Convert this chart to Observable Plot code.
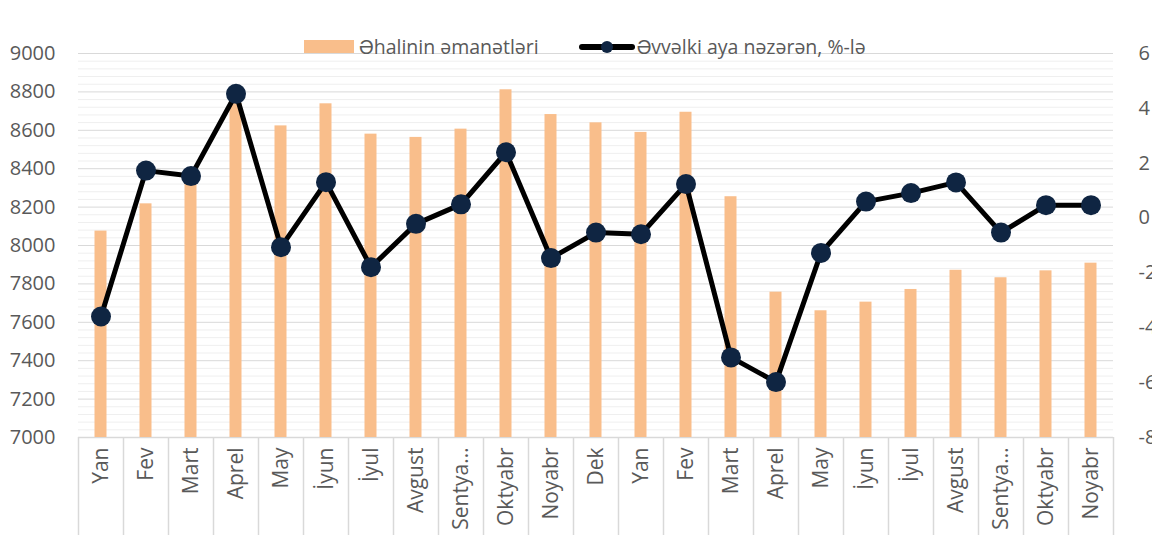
<!DOCTYPE html>
<html>
<head>
<meta charset="utf-8">
<script src="https://cdn.jsdelivr.net/npm/d3@7"></script>
<script src="https://cdn.jsdelivr.net/npm/@observablehq/plot@0.6"></script>
<style>
  html, body { margin: 0; padding: 0; background: #fff; overflow: hidden; }
  #wrap { position: relative; width: 1152px; height: 535px; font-family: "Open Sans", sans-serif; }
  #legend { position: absolute; top: 33px; left: 304px; display: flex; align-items: center; font-size: 19.5px; color: #595959; white-space: nowrap; }
  .sw-bar { display: inline-block; width: 50px; height: 13px; background: #f9be8b; margin-right: 5px; }
  .item { display: flex; align-items: center; }
  .item + .item { margin-left: 40px; }
</style>
</head>
<body>
<div id="wrap">
  <div id="legend">
    <div class="item"><span class="sw-bar"></span><span>Əhalinin əmanətləri</span></div>
    <div class="item">
      <svg width="56" height="20" style="margin-right:2px"><line x1="3" y1="10" x2="53" y2="10" stroke="#000" stroke-width="6" stroke-linecap="round"/><circle cx="28" cy="10" r="6" fill="#0f2542"/></svg>
      <span>Əvvəlki aya nəzərən, %-lə</span>
    </div>
  </div>
</div>
<script>
const labels = ["Yan","Fev","Mart","Aprel","May","İyun","İyul","Avgust","Sentya…","Oktyabr","Noyabr","Dek","Yan","Fev","Mart","Aprel","May","İyun","İyul","Avgust","Sentya…","Oktyabr","Noyabr"];
const deposits = [8075,8217,8345,8740,8623,8738,8580,8563,8606,8811,8682,8639,8589,8694,8254,7757,7660,7705,7771,7871,7832,7868,7908];
const change = [-3.59,1.73,1.53,4.53,-1.06,1.31,-1.79,-0.21,0.50,2.40,-1.46,-0.53,-0.59,1.24,-5.08,-5.98,-1.27,0.60,0.91,1.30,-0.53,0.47,0.47];
const leftTicks = [7000,7200,7400,7600,7800,8000,8200,8400,8600,8800,9000];
const rightTicks = [-8,-6,-4,-2,0,2,4,6];

const L0 = 7000, L1 = 9000, R0 = -8, R1 = 6;
const toLeft = v => L0 + (v - R0) / (R1 - R0) * (L1 - L0);
const fromLeft = y => Math.round(R0 + (y - L0) / (L1 - L0) * (R1 - R0));

const n = labels.length;
const data = labels.map((label, i) => ({i, label, dep: deposits[i], chg: change[i]}));
const W = 1152, H = 535, mL = 78, mR = 39, mT = 53, mB = 98;
const bw = (W - mL - mR) / n;
const minor = d3.range(L0, L1 + 1, 40).filter(v => v % 200 !== 0);

const chart = Plot.plot({
  width: W, height: H,
  marginLeft: mL, marginRight: mR, marginTop: mT, marginBottom: mB,
  style: {fontFamily: "Open Sans, sans-serif", fontSize: "20px", color: "#595959", background: "transparent", overflow: "visible"},
  x: {type: "band", domain: d3.range(n), padding: 0},
  y: {domain: [L0, L1]},
  marks: [
    Plot.ruleY(minor, {stroke: "#efefef", strokeWidth: 1}),
    Plot.ruleY(leftTicks, {stroke: "#d9d9d9", strokeWidth: 1}),
    Plot.axisY(leftTicks, {anchor: "left", tickSize: 0, tickPadding: 23, label: null, tickFormat: d => String(d), fontSize: 20}),
    Plot.axisY(rightTicks.map(toLeft), {anchor: "right", tickSize: 0, tickPadding: 25, label: null, tickFormat: fromLeft, fontSize: 20}),
    Plot.axisX({tickRotate: -90, tickSize: 0, tickPadding: 10, label: null, tickFormat: i => labels[i], fontSize: 21}),
    Plot.ruleX(data, {x: "i", y1: L0, y2: 6470, dx: -bw / 2, stroke: "#d9d9d9", strokeWidth: 1.5}),
    Plot.ruleX([n - 1], {x: d => d, y1: L0, y2: 6470, dx: bw / 2, stroke: "#d9d9d9", strokeWidth: 1.5}),
    Plot.ruleY([L0], {stroke: "#d9d9d9", strokeWidth: 1.5}),
    Plot.barY(data, {x: "i", y1: L0, y2: "dep", fill: "#f9be8b", insetLeft: 16.5, insetRight: 16.5}),
    Plot.line(data, {x: "i", y: d => toLeft(d.chg), stroke: "#000", strokeWidth: 5, strokeLinejoin: "round"}),
    Plot.dot(data, {x: "i", y: d => toLeft(d.chg), r: 10, fill: "#0f2542", stroke: "none"})
  ]
});
document.getElementById("wrap").prepend(chart);
</script>
</body>
</html>
